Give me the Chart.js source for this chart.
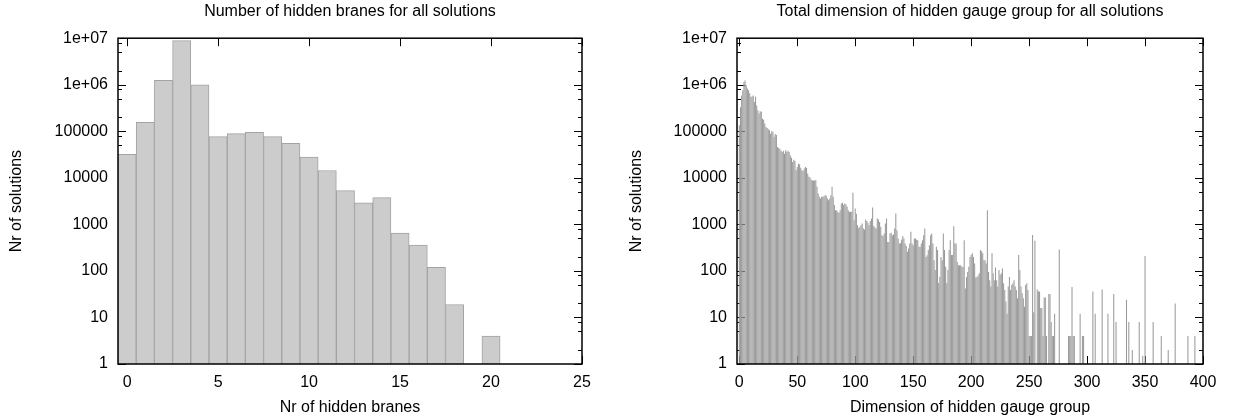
<!DOCTYPE html>
<html>
<head>
<meta charset="utf-8">
<script src="https://cdn.jsdelivr.net/npm/chart.js@4.4.1/dist/chart.umd.min.js"></script>
<style>
  body { margin: 0; background: #fff; }
  #wrap { position: relative; width: 1234px; height: 419px; }
  canvas { position: absolute; top: 0; }
</style>
</head>
<body>
<div id="wrap">
  <canvas id="branes" width="617" height="419" style="left:0;width:617px;height:419px"></canvas>
  <canvas id="gauge" width="617" height="419" style="left:617px;width:617px;height:419px"></canvas>
</div>
<script>
// number of solutions per number of hidden branes (0..20)
var braneCounts = [32000, 155000, 1240000, 8900000, 1000000, 77000, 89000, 95000, 77000, 55000,
                   27800, 14400, 5300, 2900, 3770, 650, 357, 119, 19, 0, 4];

// number of solutions per total hidden gauge group dimension (index = dimension)
var dimCounts = [
  135000, 330000, 590000, 760000, 1140000, 1230000, 975000, 830000, 760000, 660000,
  550000, 560000, 590000, 425000, 550000, 360000, 282000, 240000, 270000, 263000,
  187000, 178000, 147000, 123000, 118000, 110000, 105000, 89000, 100000, 98000,
  76000, 87000, 83000, 46000, 44000, 42000, 38000, 36000, 38000, 33000,
  39000, 36000, 38000, 36000, 30000, 27000, 22000, 24500, 23000, 14500,
  17000, 20000, 19500, 16500, 14500, 14000, 15800, 17000, 16200, 12300,
  10500, 10200, 9100, 8900, 8700, 8900, 8900, 6500, 4600, 3900,
  3600, 3900, 3900, 4000, 4200, 4100, 3600, 3300, 3600, 4200,
  6400, 3900, 2600, 2000, 2000, 1850, 1780, 2000, 2800, 2900,
  2600, 2800, 2700, 2400, 2000, 1850, 1860, 1860, 4800, 1230,
  2200, 1700, 960, 840, 885, 960, 1040, 815, 780, 1270,
  1180, 1080, 960, 1180, 1340, 2300, 920, 860, 815, 1340,
  1270, 1130, 885, 585, 560, 635, 1040, 1340, 420, 420,
  635, 660, 585, 605, 815, 1710, 750, 495, 390, 400,
  470, 560, 495, 390, 345, 257, 303, 390, 690, 390,
  357, 495, 495, 470, 455, 330, 330, 390, 455, 585,
  815, 200, 218, 280, 357, 585, 635, 390, 170, 105,
  330, 280, 55, 75, 200, 170, 635, 280, 123, 55,
  105, 280, 457, 219, 219, 910, 390, 390, 158, 132,
  132, 132, 123, 123, 457, 42, 74, 95, 123, 200,
  219, 240, 200, 145, 72, 74, 80, 89, 280, 265,
  240, 170, 170, 145, 2000, 95, 63, 46, 240, 89,
  63, 118, 63, 46, 104, 83, 89, 112, 54, 39,
  22, 12, 46, 74, 39, 50, 54, 63, 46, 39,
  26, 219, 104, 46, 33, 26, 17, 50, 54, 39,
  4, 4, 4, 590, 13, 445, 0, 40, 36, 36,
  16, 16, 4, 27, 27, 4, 0, 32, 32, 8,
  4, 4, 12, 0, 0, 0, 290, 0, 0, 0,
  0, 0, 0, 0, 4, 4, 4, 45, 4, 4,
  0, 0, 0, 0, 12, 0, 4, 4, 0, 0,
  0, 0, 0, 0, 0, 36, 0, 12, 0, 0,
  0, 0, 0, 40, 0, 0, 0, 0, 12, 0,
  0, 0, 0, 32, 0, 8, 0, 0, 0, 0,
  0, 0, 0, 0, 24, 0, 8, 0, 0, 2,
  0, 0, 0, 0, 0, 8, 0, 0, 1.5, 0,
  210, 0, 0, 0, 0, 0, 0, 8, 0, 0,
  0, 0, 0, 0, 4, 0, 0, 0, 0, 0,
  2, 0, 0, 0, 0, 0, 20, 0, 0, 0,
  0, 0, 0, 0, 0, 0, 0, 4, 0, 0,
  0, 0, 0, 4
];

var yTickValues = [1, 10, 100, 1000, 10000, 100000, 1e6, 1e7];
var yTickLabels = ['1', '10', '100', '1000', '10000', '100000', '1e+06', '1e+07'];
var yMinorSteps = [2, 5, 8];
var braneTicks = [0, 5, 10, 15, 20, 25];
var dimTicks = [0, 50, 100, 150, 200, 250, 300, 350, 400];

var FONT = '"Liberation Sans", Arial, Helvetica, sans-serif';
var txt = { family: FONT, size: 16, weight: 'normal' };

// gnuplot-style frame: inward ticks on all four sides, border on top of the boxes
var axisFrame = {
  id: 'axisFrame',
  beforeDatasetsDraw: function (chart, args, opts) {
    var a = chart.chartArea, ctx = chart.ctx;
    var xs = chart.scales.x, ys = chart.scales.y;
    ctx.save();
    ctx.strokeStyle = '#000';
    ctx.lineWidth = 1;
    ctx.beginPath();
    function yTick(v, len) {
      var py = Math.round(ys.getPixelForValue(v)) + 0.5;
      ctx.moveTo(a.left, py); ctx.lineTo(a.left + len, py);
      ctx.moveTo(a.right, py); ctx.lineTo(a.right - len, py);
    }
    yTickValues.forEach(function (v) { yTick(v, 8); });
    for (var d = 1; d < 1e7; d *= 10) {
      yMinorSteps.forEach(function (m) { yTick(d * m, 4); });
    }
    opts.xTicks.forEach(function (v) {
      var px = Math.round(xs.getPixelForValue(v)) + 0.5;
      ctx.moveTo(px, a.top); ctx.lineTo(px, a.top + 8);
      ctx.moveTo(px, a.bottom); ctx.lineTo(px, a.bottom - 8);
    });
    ctx.stroke();
    ctx.restore();
  },
  afterDatasetsDraw: function (chart) {
    var a = chart.chartArea, ctx = chart.ctx;
    ctx.save();
    ctx.strokeStyle = '#000';
    ctx.lineWidth = 1.5;
    ctx.strokeRect(a.left, a.top, a.right - a.left, a.bottom - a.top);
    ctx.restore();
  }
};

function makeChart(id, cfg) {
  var points = [];
  cfg.values.forEach(function (v, i) {
    if (v > 0) points.push({ x: i, y: v });
  });
  return new Chart(document.getElementById(id), {
    type: 'bar',
    data: {
      datasets: [{
        data: points,
        backgroundColor: cfg.fill,
        borderColor: cfg.edge,
        borderWidth: cfg.edgeWidth,
        barPercentage: cfg.barPct,
        categoryPercentage: 1
      }]
    },
    plugins: [axisFrame],
    options: {
      responsive: false,
      animation: false,
      layout: { padding: { right: cfg.padRight } },
      plugins: {
        legend: { display: false },
        tooltip: { enabled: false },
        title: {
          display: true,
          fullSize: false,
          text: cfg.title,
          color: '#000',
          font: txt,
          padding: { top: 2, bottom: 17 }
        },
        axisFrame: { xTicks: cfg.xTicks }
      },
      scales: {
        x: {
          type: 'linear',
          offset: false,
          min: cfg.xMin,
          max: cfg.xMax,
          afterBuildTicks: function (s) {
            s.ticks = cfg.xTicks.map(function (v) { return { value: v }; });
          },
          afterFit: function (s) { s.height = 55; },
          grid: { display: false, drawTicks: false, offset: false },
          border: { display: false },
          ticks: { color: '#000', font: txt, padding: 9, maxRotation: 0 },
          title: { display: true, text: cfg.xTitle, color: '#000', font: txt, padding: { top: 0, bottom: 2 } }
        },
        y: {
          type: 'logarithmic',
          min: 1,
          max: 1e7,
          afterBuildTicks: function (s) {
            s.ticks = yTickValues.map(function (v) { return { value: v }; });
          },
          afterFit: function (s) { s.width = cfg.yWidth; },
          grid: { display: false, drawTicks: false },
          border: { display: false },
          ticks: {
            color: '#000',
            font: txt,
            padding: 10,
            callback: function (v) { return yTickLabels[yTickValues.indexOf(v)]; }
          },
          title: { display: true, text: 'Nr of solutions', color: '#000', font: txt, padding: { top: cfg.yTitlePad, bottom: 0 } }
        }
      }
    }
  });
}

makeChart('branes', {
  values: braneCounts,
  title: 'Number of hidden branes for all solutions',
  xTitle: 'Nr of hidden branes',
  xTicks: braneTicks,
  xMin: -0.5,
  xMax: 25,
  yWidth: 118,
  yTitlePad: 7,
  padRight: 35,
  fill: '#cccccc',
  edge: '#a3a3a3',
  edgeWidth: 1,
  barPct: 1
});

makeChart('gauge', {
  values: dimCounts,
  title: 'Total dimension of hidden gauge group for all solutions',
  xTitle: 'Dimension of hidden gauge group',
  xTicks: dimTicks,
  xMin: -2,
  xMax: 400,
  yWidth: 120,
  yTitlePad: 10,
  padRight: 31,
  fill: '#9a9a9a',
  edge: '#9a9a9a',
  edgeWidth: 0,
  barPct: 0.9
});
</script>
</body>
</html>
